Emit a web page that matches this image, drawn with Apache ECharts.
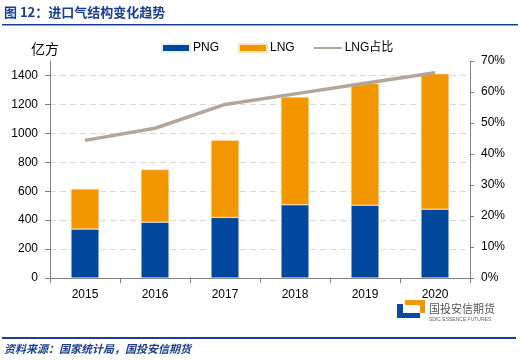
<!DOCTYPE html>
<html>
<head>
<meta charset="utf-8">
<script src="https://cdn.jsdelivr.net/npm/echarts@6/dist/echarts.min.js"></script>
<style>
html,body{margin:0;padding:0;background:#fff;}
#c{width:523px;height:360px;}
</style>
</head>
<body>
<div id="c"></div>
<script>
var years = ['2015','2016','2017','2018','2019','2020'];
var pngValues = [338, 386, 419, 506, 503, 476];
var lngValues = [278, 364, 533, 745, 842, 936];
var lngShare = [44.4, 48.3, 56.0, 59.4, 62.8, 66.2];
var leftTicks = [0, 200, 400, 600, 800, 1000, 1200, 1400];
var rightTicks = ['0%','10%','20%','30%','40%','50%','60%','70%'];

var chart = echarts.init(document.getElementById('c'), null, {renderer:'canvas'});
var font = 'Arial, "Liberation Sans", "Noto Sans CJK SC", sans-serif';
var navy = '#1b3f8f';
chart.setOption({
  animation:false,
  textStyle:{fontFamily:font},
  grid:{left:50, right:53, top:61, bottom:82},
  legend:{
    top:37, left:156, itemGap:19, itemWidth:28, itemHeight:8,
    textStyle:{fontSize:12, color:'#000', fontFamily:font, padding:[0,0,0,-2]},
    data:[
      {name:'PNG', icon:'rect'},
      {name:'LNG', icon:'rect'},
      {name:'LNG占比', icon:'path://M0,4 L28,4 L28,6 L0,6 Z', itemStyle:{color:'#b4a59a'}}
    ]
  },
  xAxis:{
    type:'category', data:years,
    axisLine:{lineStyle:{color:'#808080', width:1}},
    axisTick:{show:true, length:5, lineStyle:{color:'#808080'}},
    axisLabel:{color:'#000', fontSize:12, margin:11}
  },
  yAxis:[
    {type:'value', min:0, max:1500, interval:200,
     axisLine:{show:true, lineStyle:{color:'#808080'}},
     axisTick:{show:true, length:5, lineStyle:{color:'#808080'}},
     axisLabel:{color:'#000', fontSize:12, margin:12, showMaxLabel:false,
       formatter:function(v){return leftTicks.indexOf(v)>=0? String(v):'';}},
     splitLine:{show:true, showMaxLine:false, lineStyle:{color:'#d9d9d9', type:[6,4]}}
    },
    {type:'value', min:0, max:70, interval:10,
     axisLine:{show:true, lineStyle:{color:'#808080'}},
     axisTick:{show:true, length:4, lineStyle:{color:'#808080'}},
     axisLabel:{color:'#000', fontSize:12, margin:11,
       formatter:function(v){return rightTicks[Math.round(v/10)];}},
     splitLine:{show:false}
    }
  ],
  series:[
    {name:'PNG', type:'bar', stack:'a', data:pngValues, barWidth:28,
     itemStyle:{color:'#00479d', borderColor:'#e8eef8', borderWidth:0.5}},
    {name:'LNG', type:'bar', stack:'a', data:lngValues, barWidth:28,
     itemStyle:{color:'#f39700', borderColor:'#fde3bf', borderWidth:0.5}},
    {name:'LNG占比', type:'line', yAxisIndex:1, data:lngShare, symbol:'none',
     lineStyle:{color:'#b4a59a', width:3.5}, itemStyle:{color:'#b4a59a'}}
  ],
  graphic:[
    {type:'text', left:4, top:6, style:{text:'图 12：进口气结构变化趋势', fill:navy, font:'bold 13px "Noto Sans CJK SC", sans-serif'}},
    {type:'rect', shape:{x:2, y:24, width:516, height:1.5}, style:{fill:navy}},
    {type:'text', left:31, top:42, style:{text:'亿方', fill:'#000', font:'14px "Noto Sans CJK SC", sans-serif'}},
    {type:'rect', shape:{x:2, y:337, width:514, height:2}, style:{fill:'#1a3f95'}},
    {type:'text', left:4, top:343, style:{text:'资料来源：国家统计局，国投安信期货', fill:navy, font:'italic bold 11px "Noto Sans CJK SC", sans-serif'}},
    {type:'polygon', shape:{points:[[397,304],[403,304],[403,313],[420,313],[420,318],[397,318]]}, style:{fill:'#0a4a9f'}},
    {type:'polygon', shape:{points:[[405,300],[425,300],[425,313],[420,313],[420,305],[405,305]]}, style:{fill:'#f39700'}},
    {type:'text', left:429, top:303, style:{text:'国投安信期货', fill:'#555', font:'11px "Noto Sans CJK SC", sans-serif'}},
    {type:'text', left:429, top:317, style:{text:'SDIC ESSENCE FUTURES', fill:'#666', font:'5px Arial, sans-serif'}}
  ]
});
</script>
</body>
</html>
